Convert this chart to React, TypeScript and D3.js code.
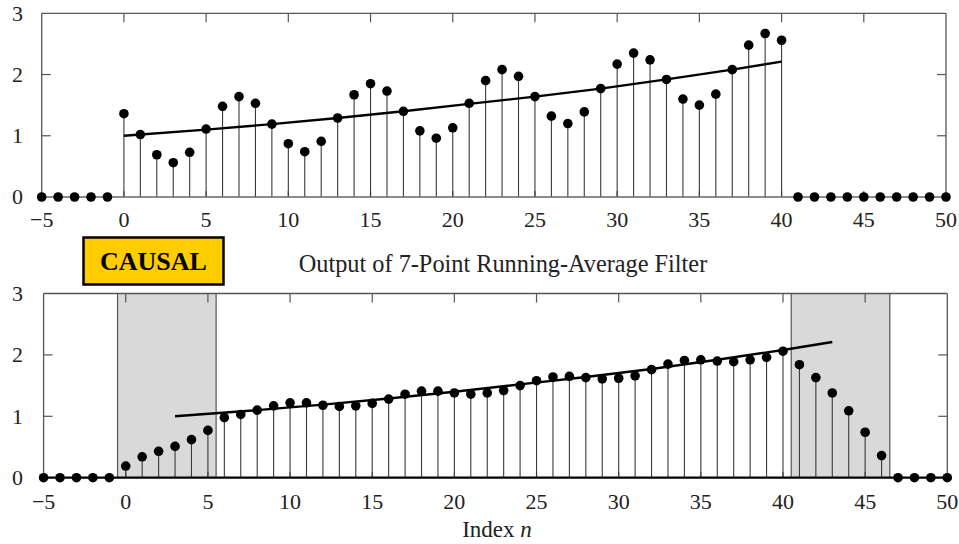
import React from "react";
import * as d3 from "d3";

const indexN = [-5,-4,-3,-2,-1,0,1,2,3,4,5,6,7,8,9,10,11,12,13,14,15,16,17,18,19,20,21,22,23,24,25,26,27,28,29,30,31,32,33,34,35,36,37,38,39,40,41,42,43,44,45,46,47,48,49,50];

const inputValues = [0,0,0,0,0,
  1.36,1.02,0.69,0.56,0.73,1.11,1.48,1.64,1.53,1.19,0.87,0.74,0.91,1.29,1.67,1.85,1.73,1.40,1.08,0.96,1.13,
  1.53,1.90,2.08,1.97,1.64,1.32,1.20,1.39,1.77,2.17,2.35,2.24,1.92,1.60,1.50,1.68,2.08,2.48,2.67,2.56,
  0,0,0,0,0,0,0,0,0,0];

const outputValues = [0,0,0,0,0,
  0.19,0.34,0.43,0.51,0.62,0.77,0.98,1.03,1.10,1.17,1.22,1.22,1.18,1.16,1.17,1.21,1.28,1.36,1.41,1.41,1.38,
  1.36,1.38,1.42,1.50,1.58,1.64,1.65,1.63,1.61,1.62,1.66,1.76,1.85,1.91,1.92,1.90,1.89,1.92,1.96,2.06,
  1.84,1.63,1.38,1.09,0.74,0.36,
  0,0,0,0];

const topTrendN = [0, 5, 9, 13, 17, 21, 25, 29, 33, 37, 40];
const topTrendV = [1.0, 1.10, 1.19, 1.29, 1.40, 1.52, 1.64, 1.77, 1.92, 2.08, 2.21];
const bottomTrendN = [3, 8, 12, 16, 20, 24, 28, 32, 36, 40, 43];
const bottomTrendV = [1.0, 1.10, 1.19, 1.29, 1.40, 1.52, 1.64, 1.77, 1.92, 2.08, 2.21];
const shadedRegions = [[-0.5, 5.5], [40.5, 46.5]];
const xTicks = [-5, 0, 5, 10, 15, 20, 25, 30, 35, 40, 45, 50];
const yTicks = [0, 1, 2, 3];

const FONT = "'Liberation Serif', 'Times New Roman', serif";

type PanelProps = {
  values: number[];
  trendN: number[];
  trendV: number[];
  x0: number; x1: number; yTop: number; yBottom: number;
  labelBaseline: number;
  shaded?: number[][];
  heavyBase?: boolean;
};

function Panel({ values, trendN, trendV, x0, x1, yTop, yBottom, labelBaseline, shaded, heavyBase }: PanelProps) {
  const x = d3.scaleLinear().domain([-5, 50]).range([x0, x1]);
  const y = d3.scaleLinear().domain([0, 3]).range([yBottom, yTop]);
  const line = d3.line<number>().x(i => x(trendN[i])).y(i => y(trendV[i]));
  const axisColor = "#555";
  return (
    <g>
      {shaded && shaded.map((r, i) => (
        <g key={"s" + i}>
          <rect x={x(r[0])} y={y(3)} width={x(r[1]) - x(r[0])} height={y(0) - y(3)} fill="#d9d9d9" />
          <line x1={x(r[0])} x2={x(r[0])} y1={y(3)} y2={y(0)} stroke={axisColor} strokeWidth={1.2} />
          <line x1={x(r[1])} x2={x(r[1])} y1={y(3)} y2={y(0)} stroke={axisColor} strokeWidth={1.2} />
        </g>
      ))}
      <line x1={x(-5)} x2={x(50)} y1={y(3)} y2={y(3)} stroke={axisColor} strokeWidth={1.3} />
      <line x1={x(-5)} x2={x(-5)} y1={y(3)} y2={y(0)} stroke={axisColor} strokeWidth={1.3} />
      <line x1={x(50)} x2={x(50)} y1={y(3)} y2={y(0)} stroke={axisColor} strokeWidth={1.3} />
      {xTicks.slice(1, -1).map(t => (
        <g key={"xt" + t}>
          <line x1={x(t)} x2={x(t)} y1={y(3)} y2={y(3) + 9} stroke={axisColor} strokeWidth={1.2} />
          <line x1={x(t)} x2={x(t)} y1={y(0)} y2={y(0) - 6} stroke={axisColor} strokeWidth={1.2} />
        </g>
      ))}
      {yTicks.slice(1, -1).map(t => (
        <g key={"yt" + t}>
          <line x1={x(-5)} x2={x(-5) + 9} y1={y(t)} y2={y(t)} stroke={axisColor} strokeWidth={1.2} />
          <line x1={x(50)} x2={x(50) - 9} y1={y(t)} y2={y(t)} stroke={axisColor} strokeWidth={1.2} />
        </g>
      ))}
      {indexN.map((n, i) => values[i] !== 0 ? (
        <line key={"st" + n} x1={x(n)} x2={x(n)} y1={y(0)} y2={y(values[i])} stroke="#3a3a3a" strokeWidth={1.1} />
      ) : null)}
      <line x1={x(-5)} x2={x(50)} y1={y(0)} y2={y(0)} stroke={heavyBase ? "#000" : "#666"} strokeWidth={heavyBase ? 2.2 : 1.4} />
      <path d={line(trendN.map((_, i) => i)) || ""} fill="none" stroke="#000" strokeWidth={2.4} strokeLinejoin="round" />
      {indexN.map((n, i) => (
        <circle key={"d" + n} cx={x(n)} cy={y(values[i])} r={4.8} fill="#000" />
      ))}
      {xTicks.map(t => (
        <text key={"xl" + t} x={x(t)} y={labelBaseline} textAnchor="middle" fontFamily={FONT} fontSize={22} fill="#222">
          {t < 0 ? "\u2212" + Math.abs(t) : t}
        </text>
      ))}
      {yTicks.map(t => (
        <text key={"yl" + t} x={23} y={y(t)} dy="0.34em" textAnchor="end" fontFamily={FONT} fontSize={22} fill="#222">
          {t}
        </text>
      ))}
    </g>
  );
}

export default function App() {
  return (
    <div style={{ position: "absolute", left: 0, top: 0 }}>
      <svg width={959} height={544} style={{ display: "block", background: "#fff" }}>
        <Panel values={inputValues} trendN={topTrendN} trendV={topTrendV} x0={41.7} x1={946} yTop={13.3} yBottom={197} labelBaseline={227} />
        <Panel values={outputValues} trendN={bottomTrendN} trendV={bottomTrendV} x0={43.6} x1={947.3} yTop={293.5} yBottom={477.7} labelBaseline={509} shaded={shadedRegions} heavyBase />
        <rect x={83.5} y={237.5} width={140} height={47} fill="#ffcc00" stroke="#000" strokeWidth={2.5} />
        <text x={153.5} y={270} textAnchor="middle" fontFamily={FONT} fontWeight="bold" fontSize={26} fill="#000">CAUSAL</text>
        <text x={503} y={272} textAnchor="middle" fontFamily={FONT} fontSize={24.3} fill="#222">Output of 7-Point Running-Average Filter</text>
        <text x={497} y={537} textAnchor="middle" fontFamily={FONT} fontSize={23} fill="#222">
          Index <tspan fontStyle="italic">n</tspan>
        </text>
      </svg>
    </div>
  );
}
